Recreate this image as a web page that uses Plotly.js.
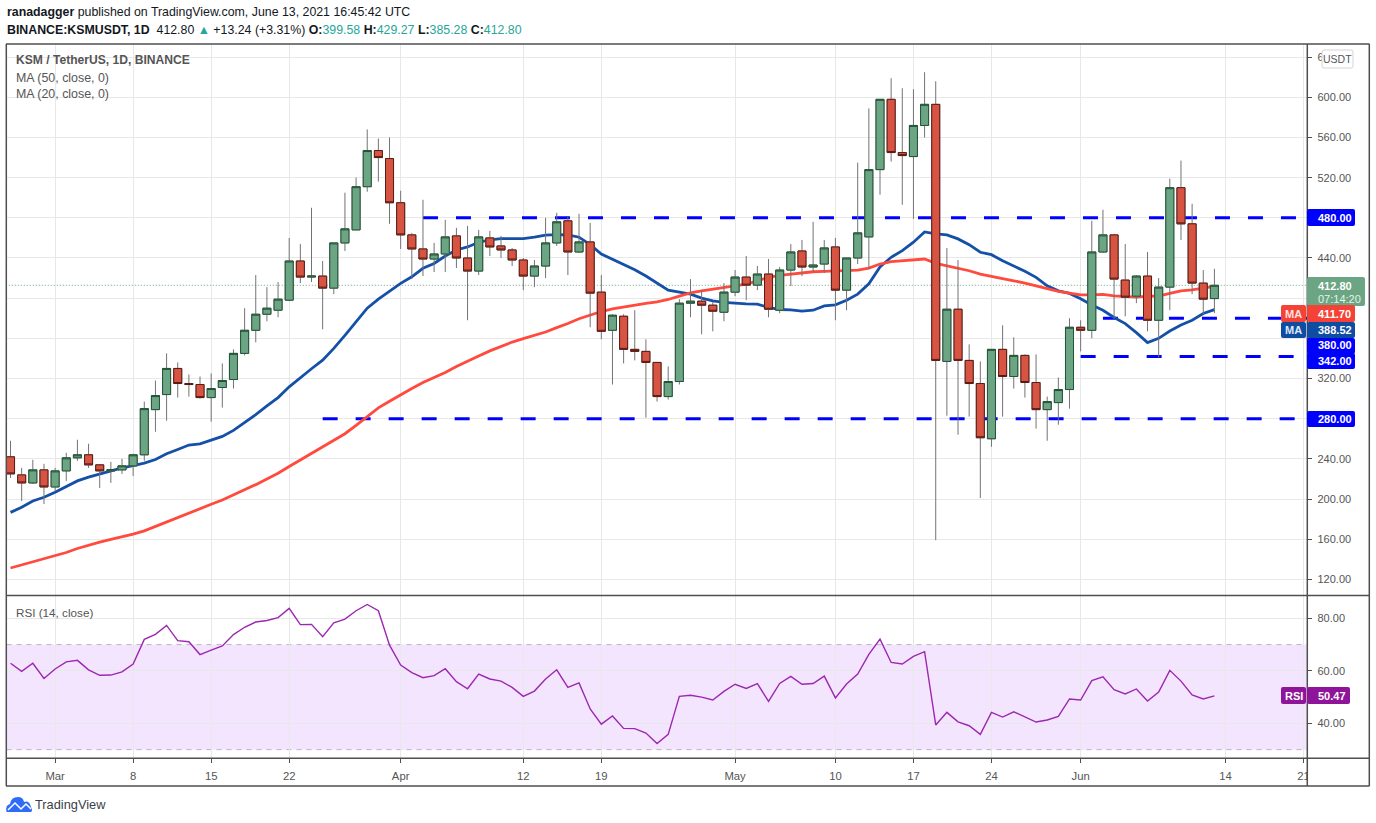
<!DOCTYPE html>
<html><head><meta charset="utf-8"><title>KSM / TetherUS</title>
<script src="https://cdn.plot.ly/plotly-3.0.1.min.js"></script>
<style>html,body{margin:0;padding:0;background:#fff}#chart{width:1376px;height:823px}</style>
</head><body><div id="chart"></div>
<script>
const dates = ["2021-02-25","2021-02-26","2021-02-27","2021-02-28",
"2021-03-01","2021-03-02","2021-03-03","2021-03-04","2021-03-05","2021-03-06","2021-03-07","2021-03-08","2021-03-09","2021-03-10","2021-03-11","2021-03-12","2021-03-13","2021-03-14","2021-03-15","2021-03-16","2021-03-17","2021-03-18","2021-03-19","2021-03-20","2021-03-21","2021-03-22","2021-03-23","2021-03-24","2021-03-25","2021-03-26","2021-03-27","2021-03-28","2021-03-29","2021-03-30","2021-03-31",
"2021-04-01","2021-04-02","2021-04-03","2021-04-04","2021-04-05","2021-04-06","2021-04-07","2021-04-08","2021-04-09","2021-04-10","2021-04-11","2021-04-12","2021-04-13","2021-04-14","2021-04-15","2021-04-16","2021-04-17","2021-04-18","2021-04-19","2021-04-20","2021-04-21","2021-04-22","2021-04-23","2021-04-24","2021-04-25","2021-04-26","2021-04-27","2021-04-28","2021-04-29","2021-04-30",
"2021-05-01","2021-05-02","2021-05-03","2021-05-04","2021-05-05","2021-05-06","2021-05-07","2021-05-08","2021-05-09","2021-05-10","2021-05-11","2021-05-12","2021-05-13","2021-05-14","2021-05-15","2021-05-16","2021-05-17","2021-05-18","2021-05-19","2021-05-20","2021-05-21","2021-05-22","2021-05-23","2021-05-24","2021-05-25","2021-05-26","2021-05-27","2021-05-28","2021-05-29","2021-05-30","2021-05-31",
"2021-06-01","2021-06-02","2021-06-03","2021-06-04","2021-06-05","2021-06-06","2021-06-07","2021-06-08","2021-06-09","2021-06-10","2021-06-11","2021-06-12","2021-06-13"];
const open = [242,224,216,229,212,228,241,244,234,228,
229,233,244,289,304,330,315,314,301,311,
319,345,368,384,388,398,437,421,422,410,
455,468,511,547,539,495,463,449,439,444,
462,440,427,460,452,448,438,422,432,455,
477,446,456,406,368,382,349,347,336,302,
317,395,397,393,386,406,421,413,424,388,
428,447,431,434,451,408,440,461,528,598,
545,541,572,593,337,389,338,315,260,349,
322,343,316,289,296,309,371,368,446,463,
418,402,422,378,411,510,474,415,399.58];
const close = [225,216,229,212,228,241,244,234,228,229,
233,244,290,303,330,315,314,301,310,318,
345,368,384,390,399,437,421,422,410,455,
469,511,547,540,495,463,449,439,444,461,
440,427,461,451,448,438,422,432,455,476,
446,456,405,367,383,349,347,336,302,317,
395,397,393,387,406,421,413,424,389,428,
446,431,433,450,408,440,465,528,598,545,
542,572,593,338,389,338,315,261,349,322,
343,316,289,297,309,371,368,446,463,419,
401,422,378,411,510,474,415,399,412.8];
const high = [258,231,239,235,231,246,259,255,234,237,
240,245,297,318,345,336,324,322,325,335,
349,390,423,411,416,460,454,490,437,455,
505,520,568,559,560,507,465,498,455,478,
470,472,468,467,462,450,440,438,480,485,
481,484,475,423,384,384,388,359,336,332,
399,419,408,396,415,428,442,432,439,431,
454,458,476,458,460,440,535,589,598,619,
609,608,625,616,450,438,354,337,349,373,
361,344,344,302,321,380,378,477,488,464,
454,423,446,420,519,537,494,428,429.27];
const low = [221,198,215,195,208,218,238,231,211,216,
225,223,238,267,278,301,302,300,277,291,
310,343,356,377,381,397,415,416,369,404,
447,468,506,516,474,449,419,422,426,426,
430,378,423,442,440,432,408,411,420,452,
423,445,371,359,314,335,338,281,297,299,
314,381,364,367,377,402,398,408,381,385,
412,422,426,425,378,388,434,429,503,536,
493,479,560,159,283,264,282,201,252,282,
310,301,270,258,274,290,347,360,445,380,
382,395,367,341,388,458,404,384,385.28];
const ma20 = [186.7,191.7,198,201.7,206.7,212.3,218,221.7,225,228.3,
231,233.3,235.7,239.3,245,249.3,253.7,255,258.3,262.3,
268.3,275.7,284,292.7,301,311.7,321,329.7,338.3,350,
363,376.7,390,399,407,414.7,421.3,429.7,434.5,442,
448,451,455.7,458,459.3,459.3,459.3,460.7,462.7,463.3,
463,460.7,453.3,444,438.7,433.3,428.3,422,414.7,408,
406,404,400,397.3,395.7,394.7,394.3,394,390.7,388.7,
388.3,387,388,392.3,393.3,398,404,414.3,431,440.7,
447.3,455.7,466,464,463,459,453.3,445.7,443.3,437.3,
432.3,426.7,420.7,412.3,407.3,404.7,399.5,393.3,388,380.7,
374.7,365.7,355.7,360,367.3,373.3,378,384.7,388.52];
const ma50 = [131.3,134.3,137.3,140,143.3,146.7,150.7,154,157,159.7,
162,165,168.3,172.7,177.7,182.3,186.7,190.7,194.7,199,
204,209,214.3,220,225.7,232.3,239,245.7,251.7,258.3,
265,273.3,281.7,290.7,297.3,304,310,316,321,326,
332,337.5,342.5,347.5,352.3,356.3,359.7,362.8,366.3,370.7,
374.7,379.5,383.3,386.7,389.3,391.3,392.7,394.7,396.3,398.7,
402,405.3,407.3,409,410.3,412.3,414,417.3,420.7,422.7,
424,425.3,426.3,426.7,427,427.3,428,430,434,436.3,
437.3,438.3,439,434.7,432.3,430,427.3,424,422,419.3,
417.3,415,412.3,409,406.7,405,403.2,403.3,403.7,402.3,
401.3,401,402,402,404.7,407.3,408.3,410,411.7];
const rsi = [62.9,59.8,62.9,57.1,60.7,63.4,64,60.4,58.3,58.4,
59.6,62.6,72,73.9,77.3,71.5,71.1,66.2,67.9,69.5,
73.8,76.6,78.6,79.2,80.3,83.8,77.6,77.7,73,78.3,
79.7,82.9,85.3,82.9,69.8,62.2,59.3,57.4,58.2,60.8,
55.9,53.2,58.8,56.9,56.1,53.7,50.3,52.3,56.9,60.4,
53.7,55.4,45.5,39.7,42.8,38.1,38,36.3,32.3,35.8,
50.3,50.7,50,48.9,52.2,54.9,53.3,55.1,48.4,55.2,
57.9,54.9,55.2,58,49.7,55,58.8,66.3,72.1,63.2,
62.6,65.5,67.3,39.4,44.2,40.6,39.1,35.8,44.2,42.4,
44.4,42.4,40.5,41.3,42.7,49.3,48.9,56.3,57.7,52.8,
51.2,53.1,48.5,51.9,60.2,56.1,50.8,49.3,50.47];
const levelValues = [480,380,342,280];
const levelStarts = ["2021-04-03","2021-06-03","2021-06-01","2021-03-25"];
const levelEnd = "2021-06-22";
const lastPrice = 412.8;
const lastPriceStart = "2021-02-20";
const priceTicks = [120,160,200,240,280,320,360,400,440,480,520,560,600,640];
const priceTickLabels = ["120.00","160.00","200.00","240.00","","320.00","","","440.00","","520.00","560.00","600.00","6"];
const rsiTicks = [40,60,80];
const rsiTickLabels = ["40.00","60.00","80.00"];
const rsiBand = [30,70];
const dateTicks = ["2021-03-01","2021-03-08","2021-03-15","2021-03-22","2021-04-01","2021-04-12","2021-04-19","2021-05-01","2021-05-10","2021-05-17","2021-05-24","2021-06-01","2021-06-14","2021-06-21"];
const dateLabels = ["Mar","8","15","22","Apr","12","19","May","10","17","24","Jun","14","21"];

const W=1376,H=823;
const X=p=>p/W, Y=p=>1-p/H;
const FONT='"Liberation Sans", Arial, sans-serif';
const AX='#4f4f4f', GRID='#e8e8e8', TXT='#555555';
const UP='#6ba583', UPL='#225437', DN='#d75442', DNL='#5b1a13', WICK='#737375';

const bodyHigh = open.map((o,i)=>Math.max(o,close[i]));
const bodyLow = open.map((o,i)=>Math.min(o,close[i]));

const traces = [];
levelValues.forEach((v,i)=>traces.push({type:'scatter',mode:'lines',x:[levelStarts[i],levelEnd],y:[v,v],
  line:{color:'#0000ff',width:3,dash:'15px,18px'},xaxis:'x',yaxis:'y',hoverinfo:'skip'}));
traces.push({type:'scatter',mode:'lines',x:[lastPriceStart,levelEnd],y:[lastPrice,lastPrice],line:{color:UP,width:1,dash:'1px,2px'},hoverinfo:'skip',xaxis:'x',yaxis:'y'});
traces.push({type:'scatter',mode:'lines',name:'MA 20',x:dates,y:ma20,line:{color:'#1550a8',width:2.8},xaxis:'x',yaxis:'y',hoverinfo:'skip'});
traces.push({type:'scatter',mode:'lines',name:'MA 50',x:dates,y:ma50,line:{color:'#ff4a3d',width:2.8},xaxis:'x',yaxis:'y',hoverinfo:'skip'});
traces.push({type:'candlestick',x:dates,open:open,high:high,low:low,close:close,xaxis:'x',yaxis:'y3',whiskerwidth:0,
  increasing:{line:{color:WICK,width:1},fillcolor:WICK},decreasing:{line:{color:WICK,width:1},fillcolor:WICK},hoverinfo:'skip'});
traces.push({type:'candlestick',x:dates,open:open,close:close,high:bodyHigh,low:bodyLow,xaxis:'x',yaxis:'y3',whiskerwidth:0,
  increasing:{line:{color:UPL,width:1},fillcolor:UP},decreasing:{line:{color:DNL,width:1},fillcolor:DN},hoverinfo:'skip'});
traces.push({type:'scatter',mode:'lines',name:'RSI',x:dates,y:rsi,line:{color:'#9c27b0',width:1.4},xaxis:'x',yaxis:'y2',hoverinfo:'skip'});

const rr=(x0,y0,x1,y1,r)=>{const f=(a,b)=>X(a)+','+Y(b);
 return 'M'+f(x0+r,y0)+' L'+f(x1-r,y0)+' Q'+f(x1,y0)+' '+f(x1,y0+r)+' L'+f(x1,y1-r)+' Q'+f(x1,y1)+' '+f(x1-r,y1)+' L'+f(x0+r,y1)+' Q'+f(x0,y1)+' '+f(x0,y1-r)+' L'+f(x0,y0+r)+' Q'+f(x0,y0)+' '+f(x0+r,y0)+' Z';};
const tag=(x0,y0,x1,y1,c,stroke)=>({type:'path',xref:'paper',yref:'paper',path:rr(x0,y0,x1,y1,2),fillcolor:c,line:{color:stroke||c,width:stroke?1:0},layer:'above'});
const frame=(x0,y0,x1,y1)=>({type:'line',xref:'paper',yref:'paper',x0:X(x0),x1:X(x1),y0:Y(y0),y1:Y(y1),line:{color:AX,width:1.5},layer:'above'});

const shapes=[
 {type:'rect',xref:'paper',yref:'y2',x0:X(6.5),x1:X(1307),y0:rsiBand[0],y1:rsiBand[1],fillcolor:'rgba(153,21,255,0.11)',line:{width:0},layer:'below'},
 {type:'line',xref:'paper',yref:'y2',x0:X(6.5),x1:X(1307),y0:rsiBand[0],y1:rsiBand[0],line:{color:'#bdb2c4',width:1,dash:'5px,5px'},layer:'below'},
 {type:'line',xref:'paper',yref:'y2',x0:X(6.5),x1:X(1307),y0:rsiBand[1],y1:rsiBand[1],line:{color:'#bdb2c4',width:1,dash:'5px,5px'},layer:'below'},
 {type:'rect',xref:'paper',yref:'paper',x0:X(1307.5),x1:X(1369),y0:Y(785),y1:Y(759),fillcolor:'#fff',line:{width:0},layer:'above'},
 frame(6,44,1369.5,44),frame(6.3,44,6.3,786),frame(1369.3,44,1369.3,786),frame(6,786,1369.5,786),
 frame(1307.3,44,1307.3,786),frame(6,595.5,1369.5,595.5),frame(6,758.3,1369.5,758.3),
 tag(1322,50,1353,68,'#ffffff','#d5d5d5'),
 tag(1307,209,1355,226,'#0000ff'),
 tag(1307,277,1365,306,UP),
 tag(1281,305,1306,322,'#f44336'),tag(1307,305,1355,322,'#f44336'),
 tag(1281,322,1306,338,'#0f4da2'),tag(1307,322,1355,338,'#0f4da2'),
 tag(1307,338,1355,354,'#0000ff'),tag(1307,353,1355,369,'#0000ff'),
 tag(1307,411,1355,427,'#0000ff'),
 tag(1281,687,1306,704,'#8e1599'),tag(1307,687,1350,704,'#8e1599'),
 {type:'path',xref:'paper',yref:'paper',layer:'above',fillcolor:'#2e6bf6',line:{width:0},
  path:'M'+X(6.5)+','+Y(812)+' Q'+X(5)+','+Y(805)+' '+X(10)+','+Y(804)+' Q'+X(11)+','+Y(797)+' '+X(18)+','+Y(797)+' Q'+X(23)+','+Y(797)+' '+X(24)+','+Y(802)+' Q'+X(29)+','+Y(800)+' '+X(31)+','+Y(807)+' Q'+X(33)+','+Y(811)+' '+X(31)+','+Y(812)+' Z'},
 {type:'path',xref:'paper',yref:'paper',layer:'above',line:{color:'#ffffff',width:1.5},
  path:'M'+X(8)+','+Y(810)+' L'+X(15)+','+Y(803)+' L'+X(21)+','+Y(809)+' L'+X(26)+','+Y(804)+' L'+X(31)+','+Y(809)}
];

const note=(x,y,text,size,color,anchor)=>({xref:'paper',yref:'paper',x:X(x),y:Y(y),text:text,showarrow:false,xanchor:anchor||'left',yanchor:'middle',
  align:'left',borderpad:0,font:{family:FONT,size:size,color:color}});
const teal=s=>'<span style="color:#26a69a">'+s+'</span>';
const TAGF=11;
const annotations=[
 note(6,12,'<b>ranadagger</b> published on TradingView.com, June 13, 2021 16:45:42 UTC',12.35,'#131722'),
 note(6,30,'<b>BINANCE:KSMUSDT, 1D</b>  412.80 '+teal('▲')+' +13.24 (+3.31%) <b>O:</b>'+teal('399.58')+' <b>H:</b>'+teal('429.27')+' <b>L:</b>'+teal('385.28')+' <b>C:</b>'+teal('412.80'),12.35,'#131722'),
 note(15,60.5,'<b>KSM / TetherUS, 1D, BINANCE</b>',12.1,TXT),
 note(15,78,'MA (50, close, 0)',12.4,TXT),
 note(15,94.5,'MA (20, close, 0)',12.4,TXT),
 note(15,612.5,'RSI (14, close)',11.7,TXT),
 note(34,804.5,'TradingView',12.8,'#3a3f4b'),
 note(1337.5,59,'USDT',10.5,'#555555','center'),
 note(1317,217.5,'<b>480.00</b>',TAGF,'#fff'),
 note(1317,285.5,'<b>412.80</b>',TAGF,'#fff'),
 note(1317,298.5,'07:14:20',TAGF,'#e6f2ea'),
 note(1293.5,314,'<b>MA</b>',TAGF,'#ffe3e0','center'),
 note(1317,314,'<b>411.70</b>',TAGF,'#fff'),
 note(1293.5,330,'<b>MA</b>',TAGF,'#dfe9f7','center'),
 note(1317,330,'<b>388.52</b>',TAGF,'#fff'),
 note(1317,345,'<b>380.00</b>',TAGF,'#fff'),
 note(1317,361,'<b>342.00</b>',TAGF,'#fff'),
 note(1317,419,'<b>280.00</b>',TAGF,'#fff'),
 note(1293.5,696,'<b>RSI</b>',TAGF,'#fff','center'),
 note(1317,696,'<b>50.47</b>',TAGF,'#fff')
];

const priceRange=[103.9,653.1];
const TICKF={family:FONT,size:11,color:TXT};
const layout={
 width:W,height:H,margin:{l:0,r:0,t:0,b:0},paper_bgcolor:'#fff',plot_bgcolor:'#fff',showlegend:false,dragmode:false,
 font:{family:FONT,size:12,color:TXT},boxgap:0.28,boxgroupgap:0,
 xaxis:{type:'date',domain:[X(6.3),X(1307.3)],range:['2021-02-24 14:54','2021-06-21 08:00'],anchor:'y2',rangeslider:{visible:false},
  tickmode:'array',tickvals:dateTicks,ticktext:dateLabels,showgrid:true,gridcolor:GRID,gridwidth:1,zeroline:false,
  ticks:'outside',ticklen:4,tickcolor:AX,tickfont:{family:FONT,size:11.3,color:TXT},ticklabelstandoff:3,showline:false},
 yaxis:{domain:[Y(595.5),Y(44)],range:priceRange,side:'right',anchor:'x',tickmode:'array',tickvals:priceTicks,ticktext:priceTickLabels,
  showgrid:true,gridcolor:GRID,zeroline:false,ticks:'outside',ticklen:4,tickcolor:AX,tickfont:TICKF,ticklabelstandoff:3,showline:false},
 yaxis3:{domain:[Y(595.5),Y(44)],range:priceRange,overlaying:'y',side:'right',anchor:'x',visible:false},
 yaxis2:{domain:[Y(758.3),Y(595.5)],range:[26.7,88.7],side:'right',anchor:'x',tickmode:'array',tickvals:rsiTicks,ticktext:rsiTickLabels,
  showgrid:true,gridcolor:GRID,zeroline:false,ticks:'outside',ticklen:4,tickcolor:AX,tickfont:TICKF,ticklabelstandoff:3,showline:false},
 shapes:shapes,annotations:annotations
};
Plotly.newPlot('chart',traces,layout,{displayModeBar:false,staticPlot:true});
</script></body></html>
